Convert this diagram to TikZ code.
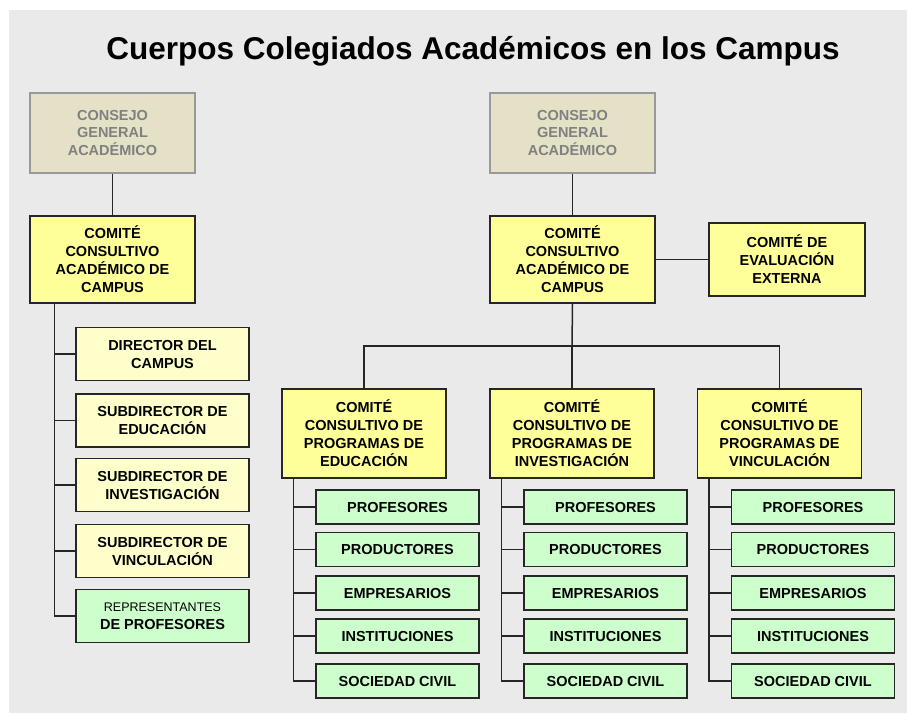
\documentclass[tikz,border=0pt]{standalone}
\usepackage{fontspec}
\setmainfont{Liberation Sans}
\usepackage{tikz}
\usetikzlibrary{positioning}
\usepackage{xcolor}

\definecolor{fondo}{HTML}{EAEAEA}
\definecolor{consejo}{HTML}{E4E1C6}
\definecolor{amarillo}{HTML}{FFFF99}
\definecolor{crema}{HTML}{FFFFCC}
\definecolor{verde}{HTML}{CCFFCC}

\begin{document}
\begin{tikzpicture}[x=1pt,y=-1pt,
	consejobox/.style={draw=gray!80, line width=1.2pt, fill=consejo, text=gray, minimum width=165pt, minimum height=80pt, align=center, font=\fontsize{14.5}{17.5}\selectfont\bfseries},
	comitebox/.style={draw=black!85, line width=1.5pt, fill=amarillo, align=center, font=\fontsize{14.5}{18}\selectfont\bfseries},
	subbox/.style={draw=black!85, line width=1.5pt, fill=crema, minimum width=173pt, minimum height=53pt, align=center, font=\fontsize{14.5}{18}\selectfont\bfseries},
	grupobox/.style={draw=black!85, line width=1.5pt, fill=verde, minimum width=163pt, minimum height=34pt, align=center, font=\fontsize{14.5}{18}\selectfont\bfseries},
	liga/.style={draw=black!85, line width=1.5pt}]

		\useasboundingbox (0,0) rectangle (907,713);
		\fill[fondo] (9,10) rectangle (907,713);

		\node[font=\fontsize{31.5}{36}\selectfont\bfseries] (titulo) at (473,51) {Cuerpos Colegiados Académicos en los Campus};

		% lado izquierdo
		\node[consejobox] (cg1) at (112.5,133) {CONSEJO\\GENERAL\\ACADÉMICO};
		\node[comitebox, minimum width=165pt, minimum height=87pt] (cc1) at (112.5,259.5) {COMITÉ\\CONSULTIVO\\ACADÉMICO DE\\CAMPUS};
		\node[subbox] (s1) at (162.5,354) {DIRECTOR DEL\\CAMPUS};
		\node[subbox] (s2) at (162.5,420.5) {SUBDIRECTOR DE\\EDUCACIÓN};
		\node[subbox] (s3) at (162.5,485) {SUBDIRECTOR DE\\INVESTIGACIÓN};
		\node[subbox] (s4) at (162.5,551) {SUBDIRECTOR DE\\VINCULACIÓN};
		\node[subbox, fill=verde] (s5) at (162.5,616) {{\fontsize{12.5}{16}\selectfont\mdseries REPRESENTANTES}\\DE PROFESORES};

		\draw[liga] (cg1) -- (cc1);
		\foreach \s in {s1,s2,s3,s4,s5}
			\draw[liga] ([xshift=25pt]cc1.south west) |- (\s.west);

		% lado derecho
		\node[consejobox] (cg2) at (572.5,133) {CONSEJO\\GENERAL\\ACADÉMICO};
		\node[comitebox, minimum width=165pt, minimum height=87pt] (cc2) at (572.5,259.5) {COMITÉ\\CONSULTIVO\\ACADÉMICO DE\\CAMPUS};
		\node[comitebox, minimum width=156pt, minimum height=73pt] (ce) at (787,259.5) {COMITÉ DE\\EVALUACIÓN\\EXTERNA};

		\node[comitebox, minimum width=164pt, minimum height=89pt] (cp1) at (364,433.5) {COMITÉ\\CONSULTIVO DE\\PROGRAMAS DE\\EDUCACIÓN};
		\node[comitebox, minimum width=164pt, minimum height=89pt] (cp2) at (572,433.5) {COMITÉ\\CONSULTIVO DE\\PROGRAMAS DE\\INVESTIGACIÓN};
		\node[comitebox, minimum width=164pt, minimum height=89pt] (cp3) at (779.5,433.5) {COMITÉ\\CONSULTIVO DE\\PROGRAMAS DE\\VINCULACIÓN};
		\coordinate (bus) at (572,346);

		\draw[liga] (cg2) -- (cc2);
		\draw[liga] (cc2) -- (ce);
		\draw[liga] (cc2.south) -- (bus);
		\draw[liga] (cp1.north) |- (bus) -| (cp3.north);
		\draw[liga] (bus) -- (cp2.north);

		% grupos de cada comite
		\foreach \c/\x in {cp1/397.5, cp2/605.5, cp3/813}{
			\node[grupobox] (\c-g1) at (\x,507) {PROFESORES};
			\node[grupobox] (\c-g2) at (\x,549.5) {PRODUCTORES};
			\node[grupobox] (\c-g3) at (\x,593) {EMPRESARIOS};
			\node[grupobox] (\c-g4) at (\x,636) {INSTITUCIONES};
			\node[grupobox] (\c-g5) at (\x,681) {SOCIEDAD CIVIL};
			\foreach \g in {g1,g2,g3,g4,g5}
				\draw[liga] ([xshift=12pt]\c.south west) |- (\c-\g.west);
		}
	\end{tikzpicture}
\end{document}
